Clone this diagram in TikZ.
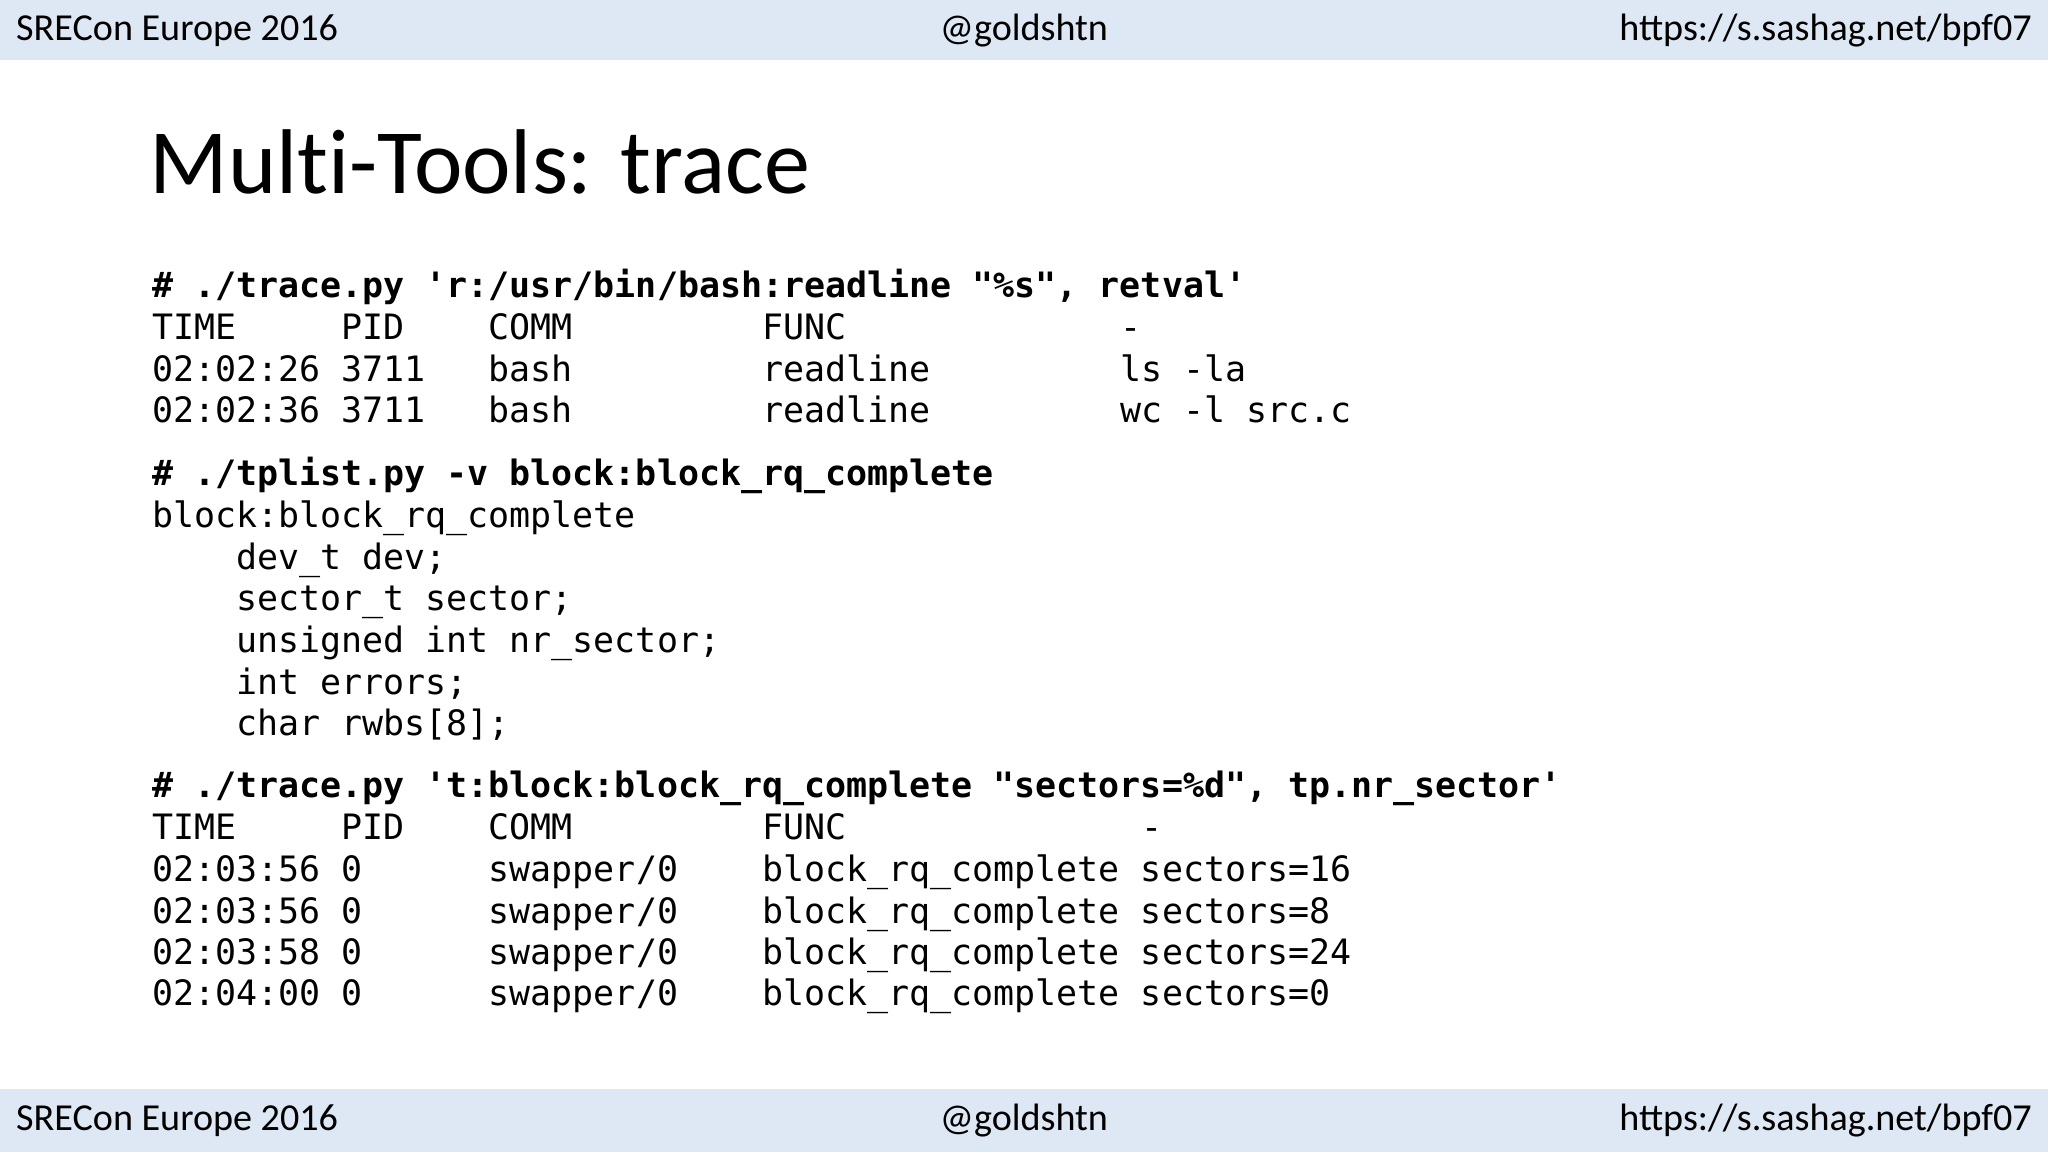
\documentclass[tikz,border=0pt]{standalone}
\usepackage{fontspec}
\setmainfont{Carlito}
\setmonofont{DejaVu Sans Mono}
\definecolor{band}{HTML}{DEE8F4}
\begin{document}
\begin{tikzpicture}[x=0.5pt,y=-0.5pt,
  hdr/.style={font=\fontsize{14.6}{17}\selectfont, inner sep=0pt},
  code/.style={anchor=mid west, inner sep=0pt, font=\fontsize{13.38}{16}\ttfamily},
  cmd/.style={code, font=\fontsize{13.38}{16}\ttfamily\bfseries}]
\useasboundingbox (0,0) rectangle (1568,882);
\fill[white] (0,0) rectangle (1568,882);
\fill[band] (0,0) rectangle (1568,46);
\fill[band] (0,834) rectangle (1568,882);
\node[hdr,anchor=mid west] (h1) at (12,26) {SRECon Europe 2016};
\node[hdr,anchor=mid] (h2) at (784,26) {@goldshtn};
\node[hdr,anchor=mid east] (h3) at (1556,26) {https://s.sashag.net/bpf07};
\node[hdr,anchor=mid west] (f1) at (12,861) {SRECon Europe 2016};
\node[hdr,anchor=mid] (f2) at (784,861) {@goldshtn};
\node[hdr,anchor=mid east] (f3) at (1556,861) {https://s.sashag.net/bpf07};
\node[anchor=base west, inner sep=0pt, font=\fontsize{35.2}{40}\selectfont] (title) at (114,148) {Mult\kern0pt i-Tools: trace};
\begin{scope}[yshift=-2.5pt]
\node[cmd] (l1) at (116,218) {\#~./trace.py~'r:/usr/bin/bash:readline~"\%s",~retval'};
\node[code] (l2) at (116,250) {TIME~~~~~PID~~~~COMM~~~~~~~~~FUNC~~~~~~~~~~~~~-};
\node[code] (l3) at (116,282) {02:02:26~3711~~~bash~~~~~~~~~readline~~~~~~~~~ls~-la};
\node[code] (l4) at (116,314) {02:02:36~3711~~~bash~~~~~~~~~readline~~~~~~~~~wc~-l~src.c};
\node[cmd] (m1) at (116,362) {\#~./tplist.py~-v~block:block\_rq\_complete};
\node[code] (m2) at (116,394) {block:block\_rq\_complete};
\node[code] (m3) at (116,426) {~~~~dev\_t~dev;};
\node[code] (m4) at (116,458) {~~~~sector\_t~sector;};
\node[code] (m5) at (116,490) {~~~~unsigned~int~nr\_sector;};
\node[code] (m6) at (116,522) {~~~~int~errors;};
\node[code] (m7) at (116,553) {~~~~char~rwbs[8];};
\node[cmd] (n1) at (116,601) {\#~./trace.py~'t:block:block\_rq\_complete~"sectors=\%d",~tp.nr\_sector'};
\node[code] (n2) at (116,633) {TIME~~~~~PID~~~~COMM~~~~~~~~~FUNC~~~~~~~~~~~~~~-};
\node[code] (n3) at (116,665) {02:03:56~0~~~~~~swapper/0~~~~block\_rq\_complete~sectors=16};
\node[code] (n4) at (116,697) {02:03:56~0~~~~~~swapper/0~~~~block\_rq\_complete~sectors=8};
\node[code] (n5) at (116,729) {02:03:58~0~~~~~~swapper/0~~~~block\_rq\_complete~sectors=24};
\node[code] (n6) at (116,760) {02:04:00~0~~~~~~swapper/0~~~~block\_rq\_complete~sectors=0};
\end{scope}
\end{tikzpicture}
\end{document}
